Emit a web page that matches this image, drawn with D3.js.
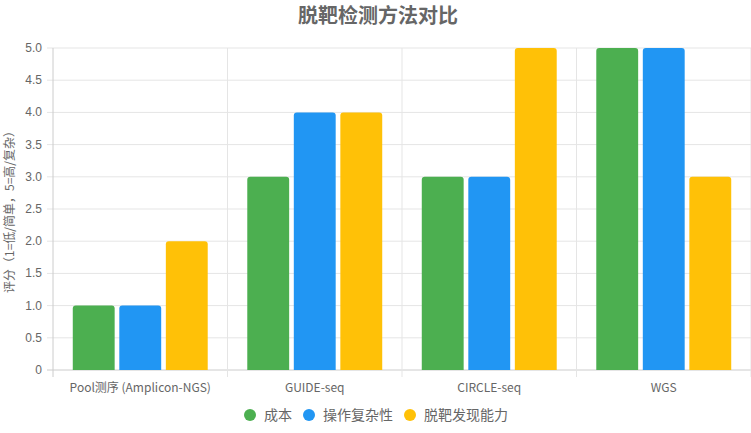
<!DOCTYPE html>
<html><head><meta charset="utf-8">
<script src="https://cdn.jsdelivr.net/npm/d3@7"></script>
<style>body{margin:0;background:#fff;font-family:"Noto Sans CJK SC","Liberation Sans",sans-serif}</style>
</head><body><svg id="c" width="751" height="433"></svg>
<script>
const categories = ['Pool测序 (Amplicon-NGS)', 'GUIDE-seq', 'CIRCLE-seq', 'WGS'];
const seriesNames = ['成本', '操作复杂性', '脱靶发现能力'];
const cost = [1, 3, 3, 5];
const complexity = [1, 4, 3, 5];
const discovery = [2, 4, 5, 3];
const colors = ['#4CAF50', '#2196F3', '#FFC107'];
const yTicks = [0, 0.5, 1, 1.5, 2, 2.5, 3, 3.5, 4, 4.5, 5];

const series = [cost, complexity, discovery];
const svg = d3.select('#c');
const plotLeft = 53, plotRight = 751, plotTop = 48, plotBottom = 370;

const x = d3.scaleBand().domain(categories).range([plotLeft, plotRight]);
const x1 = d3.scaleBand().domain(d3.range(3)).range([0, x.bandwidth() * 0.8]).paddingInner(0.1).paddingOuter(0.05);
const y = d3.scaleLinear().domain([0, 5]).range([plotBottom, plotTop]);

// grid
svg.append('g').selectAll('line').data(yTicks).join('line')
  .attr('x1', plotLeft - 6).attr('x2', plotRight).attr('y1', d => y(d)).attr('y2', d => y(d))
  .attr('stroke', d => d === 0 ? '#ccc' : '#e5e5e5');
const bounds = d3.range(categories.length + 1).map(i => plotLeft + i * x.bandwidth());
svg.append('g').selectAll('line').data(bounds).join('line')
  .attr('x1', d => d).attr('x2', d => d).attr('y1', plotTop).attr('y2', plotBottom + 7)
  .attr('stroke', (d, i) => i === 0 ? '#ccc' : '#e5e5e5');

svg.append('g').selectAll('text').data(yTicks).join('text')
  .attr('x', 42).attr('y', d => y(d) + 4).attr('text-anchor', 'end')
  .attr('font-size', 12).attr('fill', '#666').attr('font-family', 'Liberation Sans')
  .text(d => d === 0 ? '0' : d.toFixed(1));

svg.append('g').selectAll('text').data(categories).join('text')
  .attr('x', d => x(d) + x.bandwidth() / 2).attr('y', 392).attr('text-anchor', 'middle')
  .attr('font-size', 12).attr('fill', '#666').text(d => d);

// bars, rounded top corners
series.forEach((vals, s) => {
  svg.append('g').selectAll('path').data(vals).join('path')
    .attr('fill', colors[s])
    .attr('d', (v, i) => {
      const bx = x(categories[i]) + x.bandwidth() * 0.1 + x1(s), w = x1.bandwidth();
      const ty = y(v), r = 3;
      return `M${bx},${plotBottom}V${ty + r}Q${bx},${ty} ${bx + r},${ty}H${bx + w - r}Q${bx + w},${ty} ${bx + w},${ty + r}V${plotBottom}Z`;
    });
});

svg.append('text').attr('x', 378).attr('y', 23).attr('text-anchor', 'middle')
  .attr('font-size', 20).attr('font-weight', 'bold').attr('fill', '#666').text('脱靶检测方法对比');

svg.append('text').attr('transform', 'translate(14,209) rotate(-90)').attr('text-anchor', 'middle')
  .attr('font-size', 12).attr('fill', '#666').text('评分（1=低/简单，5=高/复杂）');

const lg = svg.append('g');
const lx = [250, 309, 410];
seriesNames.forEach((n, i) => {
  lg.append('circle').attr('cx', lx[i]).attr('cy', 415).attr('r', 6).attr('fill', colors[i]);
  lg.append('text').attr('x', lx[i] + 14).attr('y', 420).attr('font-size', 14).attr('fill', '#666').text(n);
});
</script></body></html>
